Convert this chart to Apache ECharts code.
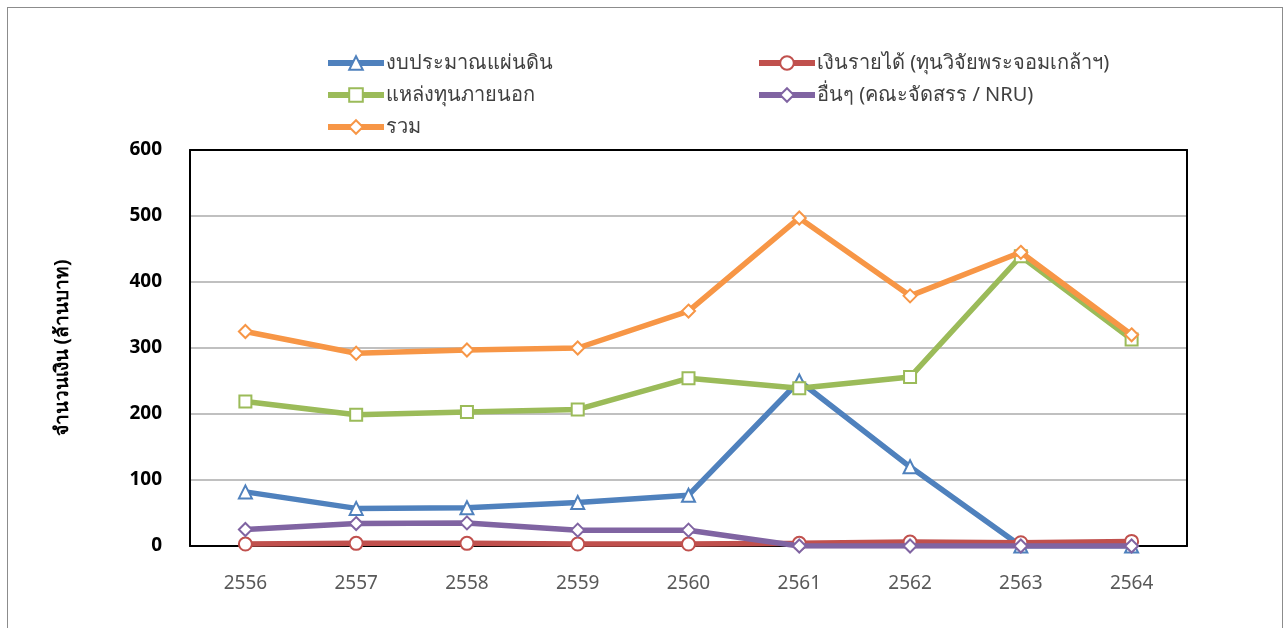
<!DOCTYPE html>
<html><head><meta charset="utf-8">
<script src="https://cdn.jsdelivr.net/npm/echarts@6/dist/echarts.min.js"></script>
<style>
html,body{margin:0;padding:0;background:#fff;}
#frame{position:absolute;left:7px;top:7px;width:1274px;height:640px;border:1px solid #8c8c8c;}
#c{position:absolute;left:0;top:0;width:1288px;height:628px;}
</style></head>
<body><div id="frame"></div><div id="c"></div>
<script>
const categories = ['2556','2557','2558','2559','2560','2561','2562','2563','2564'];
const budget   = [82, 57, 58, 66, 77, 250, 120, 0, 0];
const income   = [3, 4, 4, 3, 3, 4, 6, 5, 7];
const external = [219, 199, 203, 207, 254, 239, 256, 439, 313];
const other    = [25, 34, 35, 24, 24, 0, 0, 0, 0];
const total    = [325, 292, 297, 300, 356, 497, 379, 445, 320];
const seriesNames = ['งบประมาณแผ่นดิน','เงินรายได้ (ทุนวิจัยพระจอมเกล้าฯ)','แหล่งทุนภายนอก','อื่นๆ (คณะจัดสรร / NRU)','รวม'];
const yTicks = [0, 100, 200, 300, 400, 500, 600];
const yName = 'จำนวนเงิน (ล้านบาท)';

const font = 'Tahoma, "Noto Sans", "DejaVu Sans", sans-serif';
const colors = ['#4f81bd','#c0504d','#9bbb59','#8064a2','#f79646'];
const symbols = ['triangle','circle','rect','diamond','diamond'];
const datas = [budget, income, external, other, total];
const sizes = [13, 13, 12, 13, 13];

const chart = echarts.init(document.getElementById('c'), null, {renderer:'canvas'});
const legendCommon = {
  orient:'vertical', itemWidth:56, itemHeight:17, itemGap:12,
  lineStyle:{width:6},
  textStyle:{fontFamily:font, fontSize:20, color:'#404040', padding:[0,0,0,-3]}
};
chart.setOption({
  animation:false,
  color: colors,
  legend:[
    Object.assign({}, legendCommon, {left:320, top:48, data:[seriesNames[0], seriesNames[2], seriesNames[4]]}),
    Object.assign({}, legendCommon, {left:751, top:48, data:[seriesNames[1], seriesNames[3]]})
  ],
  grid:{left:190, right:101, top:150, bottom:82, show:false},
  xAxis:[{
    type:'category', data:categories, boundaryGap:true,
    axisLine:{show:true, lineStyle:{color:'#000', width:2}},
    axisTick:{show:false},
    axisLabel:{fontFamily:font, fontSize:19, color:'#595959', margin:28}
  },{
    type:'category', data:categories, position:'top', boundaryGap:true,
    axisLine:{show:true, onZero:false, lineStyle:{color:'#000', width:2}},
    axisTick:{show:false}, axisLabel:{show:false}, splitLine:{show:false}
  }],
  yAxis:[{
    type:'value', min:yTicks[0], max:yTicks[yTicks.length-1], interval:100,
    name:yName, nameLocation:'middle', nameGap:118,
    nameTextStyle:{fontFamily:font, fontSize:19, fontWeight:'bold', color:'#000'},
    axisLine:{show:true, lineStyle:{color:'#000', width:2}},
    axisTick:{show:false},
    axisLabel:{fontFamily:font, fontSize:19, fontWeight:'bold', color:'#000', margin:28},
    splitLine:{showMaxLine:false, showMinLine:false, lineStyle:{color:'#c0c0c0', width:2}}
  },{
    type:'value', min:yTicks[0], max:yTicks[yTicks.length-1], interval:100, position:'right',
    axisLine:{show:true, onZero:false, lineStyle:{color:'#000', width:2}},
    axisTick:{show:false}, axisLabel:{show:false}, splitLine:{show:false}
  }],
  series: seriesNames.map((n,i)=>({
    name:n, type:'line', data:datas[i],
    symbol:symbols[i], symbolSize:sizes[i], showAllSymbol:true,
    lineStyle:{width:5.5, color:colors[i]},
    itemStyle:{color:'#fff', borderColor:colors[i], borderWidth:2},
    z: i===4 ? 5 : (i===2 ? 4 : 2+i*0.1)
  }))
});
</script>
</body></html>
